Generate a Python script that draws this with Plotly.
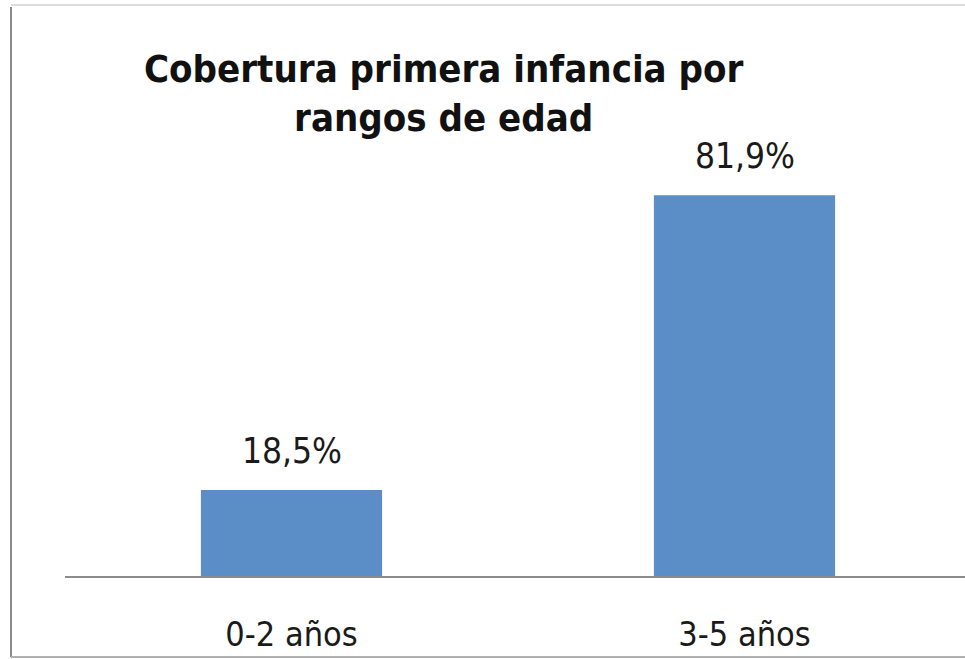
import plotly.graph_objects as go

categories = ["0-2 años", "3-5 años"]
coverage = [18.5, 81.9]
title_text = "Cobertura primera infancia por<br>rangos de edad"

FONT = "DejaVu Sans Condensed, DejaVu Sans, sans-serif"

fig = go.Figure(
    go.Bar(
        x=categories,
        y=coverage,
        marker=dict(color="#5B8EC6", line=dict(width=0)),
        width=0.4,
        hoverinfo="skip",
    )
)

L, T = 65, 111
W, H = 965, 659
AXIS_Y = 576
plot_w = W - L
plot_h = AXIS_Y - T

annotations = [
    dict(
        text="<b>" + title_text + "</b>",
        xref="paper", yref="paper",
        x=(444 - L) / plot_w, y=(AXIS_Y - 45) / plot_h,
        xanchor="center", yanchor="top",
        showarrow=False,
        align="center",
        font=dict(family=FONT, size=38, color="#111111"),
    )
]
for cat, val in zip(categories, coverage):
    annotations.append(
        dict(
            x=cat, y=val, xref="x", yref="y",
            text=f"{val:.1f}%".replace(".", ","),
            showarrow=False,
            xanchor="center", yanchor="bottom",
            yshift=17,
            font=dict(family=FONT, size=35, color="#1a1a1a"),
        )
    )

fig.update_layout(
    width=W,
    height=H,
    separators=",.",
    paper_bgcolor="white",
    plot_bgcolor="white",
    margin=dict(l=L, r=0, t=T, b=H - AXIS_Y, pad=0),
    showlegend=False,
    xaxis=dict(
        range=[-0.5, -0.5 + plot_w / 453.0],
        showline=True,
        linecolor="#8c8c8c",
        linewidth=2,
        showgrid=False,
        ticks="",
        ticklabelstandoff=27,
        tickfont=dict(family=FONT, size=34, color="#1a1a1a"),
        zeroline=False,
        fixedrange=True,
    ),
    yaxis=dict(
        range=[0, 100],
        visible=False,
        showgrid=False,
        zeroline=False,
        fixedrange=True,
    ),
    annotations=annotations,
    shapes=[
        dict(type="line", xref="paper", yref="paper",
             x0=(11 - L) / plot_w, x1=(11 - L) / plot_w,
             y0=(AXIS_Y - 7) / plot_h, y1=(AXIS_Y - 657) / plot_h,
             line=dict(color="#8a8a8a", width=2)),
        dict(type="line", xref="paper", yref="paper",
             x0=(11 - L) / plot_w, x1=1,
             y0=(AXIS_Y - 5) / plot_h, y1=(AXIS_Y - 5) / plot_h,
             line=dict(color="#dcdcdc", width=2)),
        dict(type="line", xref="paper", yref="paper",
             x0=(11 - L) / plot_w, x1=1,
             y0=(AXIS_Y - 657) / plot_h, y1=(AXIS_Y - 657) / plot_h,
             line=dict(color="#b0b0b0", width=2)),
    ],
)

fig.write_html(
    "out.html",
    config={"displayModeBar": False},
    post_script="document.body.style.margin='0';document.body.style.overflow='hidden';",
)
